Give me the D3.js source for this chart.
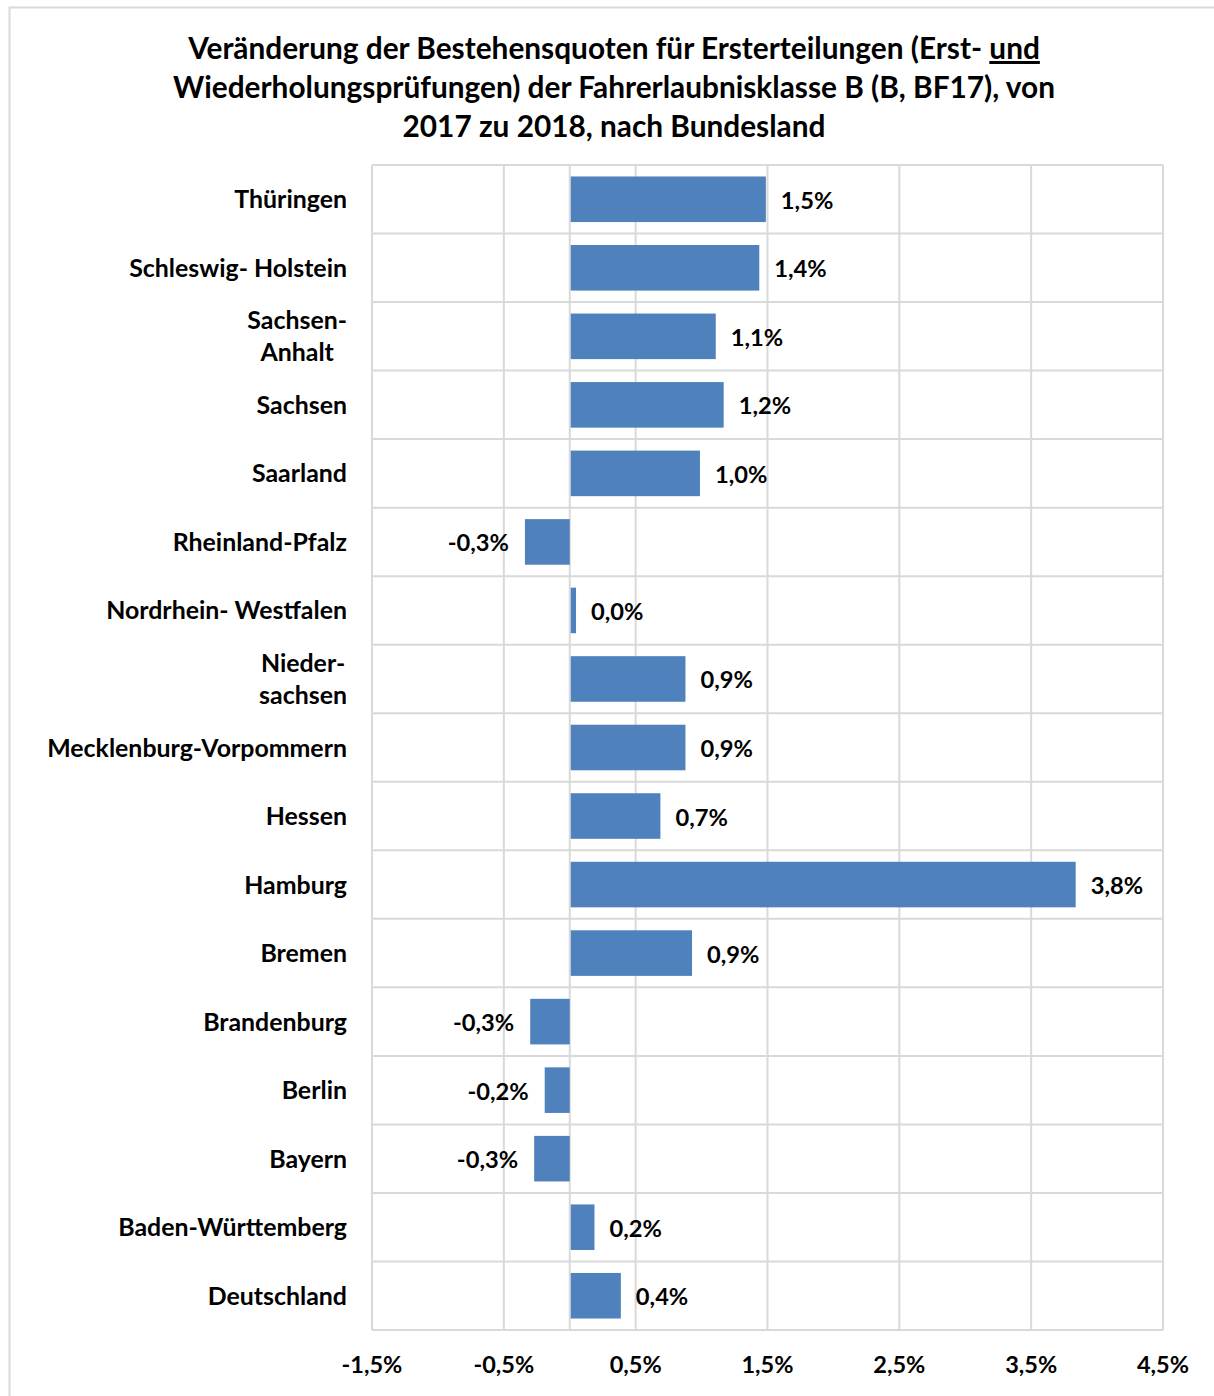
<!DOCTYPE html>
<html>
<head>
<meta charset="utf-8">
<script src="https://cdn.jsdelivr.net/npm/d3@7"></script>
<style>
  body { margin: 0; background: #fff; }
  svg { display: block; font-family: Lato, "Open Sans", sans-serif; font-weight: bold; }
</style>
</head>
<body>
<svg id="chart" width="1214" height="1396"></svg>
<script>
  // categories top to bottom
  var categories = ['Thüringen', 'Schleswig- Holstein', 'Sachsen-\nAnhalt', 'Sachsen', 'Saarland',
    'Rheinland-Pfalz', 'Nordrhein- Westfalen', 'Nieder-\nsachsen', 'Mecklenburg-Vorpommern',
    'Hessen', 'Hamburg', 'Bremen', 'Brandenburg', 'Berlin', 'Bayern', 'Baden-Württemberg', 'Deutschland'];
  // change in percentage points
  var values = [1.48, 1.43, 1.10, 1.16, 0.98, -0.34, 0.04, 0.87, 0.87, 0.68, 3.83, 0.92,
    -0.30, -0.19, -0.27, 0.18, 0.38];
  var tickValues = [-1.5, -0.5, 0.5, 1.5, 2.5, 3.5, 4.5];
  var titleLines = [
    [{ t: 'Veränderung der Bestehensquoten für Ersterteilungen (Erst- ' }, { t: 'und', u: true }],
    [{ t: 'Wiederholungsprüfungen) der Fahrerlaubnisklasse B (B, BF17), von' }],
    [{ t: '2017 zu 2018, nach Bundesland' }]
  ];

  var svg = d3.select('#chart'),
      plot = { left: 372, right: 1163, top: 165, bottom: 1330 },
      fmt = function(v) { return d3.format('.1f')(v).replace('.', ',').replace('\u2212', '-') + '%'; },
      grid = '#d9d9d9';

  // outer chart border
  svg.append('rect')
    .attr('x', 9.5).attr('y', 7.5)
    .attr('width', 1300).attr('height', 1500)
    .attr('fill', 'none').attr('stroke', grid).attr('stroke-width', 2);

  // title
  var title = svg.append('text')
    .attr('text-anchor', 'middle')
    .attr('font-size', 29.8)
    .attr('fill', '#000');
  titleLines.forEach(function(line, i) {
    var tl = title.append('tspan')
      .attr('x', 614)
      .attr('y', 59 + i * 39);
    line.forEach(function(part) {
      tl.append('tspan')
        .attr('text-decoration', part.u ? 'underline' : null)
        .text(part.t);
    });
  });

  var x = d3.scaleLinear().domain([-1.5, 4.5]).range([plot.left, plot.right]);
  var y = d3.scaleBand().domain(d3.range(categories.length))
    .range([plot.top, plot.bottom]).paddingInner(0.335).paddingOuter(0.1675);
  var step = y.step();

  // horizontal grid at row boundaries
  svg.append('g').selectAll('line')
    .data(d3.range(categories.length + 1))
    .join('line')
      .attr('x1', plot.left).attr('x2', plot.right)
      .attr('y1', function(i) { return plot.top + i * step; })
      .attr('y2', function(i) { return plot.top + i * step; })
      .attr('stroke', grid).attr('stroke-width', 2);

  // vertical grid + zero line
  svg.append('g').selectAll('line')
    .data(tickValues.concat([0]))
    .join('line')
      .attr('x1', function(d) { return x(d); })
      .attr('x2', function(d) { return x(d); })
      .attr('y1', plot.top).attr('y2', plot.bottom)
      .attr('stroke', grid).attr('stroke-width', 2);

  // bars
  svg.append('g').selectAll('rect')
    .data(values)
    .join('rect')
      .attr('x', function(d) { return Math.min(x(0), x(d)) + (d > 0 ? 1 : 0); })
      .attr('y', function(d, i) { return y(i); })
      .attr('width', function(d) { return Math.abs(x(d) - x(0)); })
      .attr('height', y.bandwidth())
      .attr('fill', '#4f81bd');

  // value labels
  svg.append('g').selectAll('text')
    .data(values)
    .join('text')
      .attr('x', function(d) { return d >= 0 ? x(d) + 16 : x(d) - 16; })
      .attr('y', function(d, i) { return y(i) + y.bandwidth() / 2 + 9.5; })
      .attr('text-anchor', function(d) { return d >= 0 ? 'start' : 'end'; })
      .attr('font-size', 23.7)
      .text(fmt);

  // category labels
  var catG = svg.append('g').attr('font-size', 24.9);
  categories.forEach(function(c, i) {
    var lines = c.split('\n'),
        cy = plot.top + (i + 0.5) * step;
    if (lines.length === 1) {
      catG.append('text')
        .attr('x', 347).attr('y', cy + 9)
        .attr('text-anchor', 'end')
        .text(c);
    } else {
      var t = catG.append('text').attr('text-anchor', 'middle');
      lines.forEach(function(l, j) {
        t.append('tspan').attr('x', 0).attr('y', cy + 9 + (j - 0.5) * 32).text(l);
      });
      var w = t.node().getBBox().width;
      t.selectAll('tspan').attr('x', 347 - w / 2);
    }
  });

  // x axis tick labels
  svg.append('g').selectAll('text')
    .data(tickValues)
    .join('text')
      .attr('x', function(d) { return x(d); })
      .attr('y', 1373)
      .attr('text-anchor', 'middle')
      .attr('font-size', 23.5)
      .text(fmt);
</script>
</body>
</html>
